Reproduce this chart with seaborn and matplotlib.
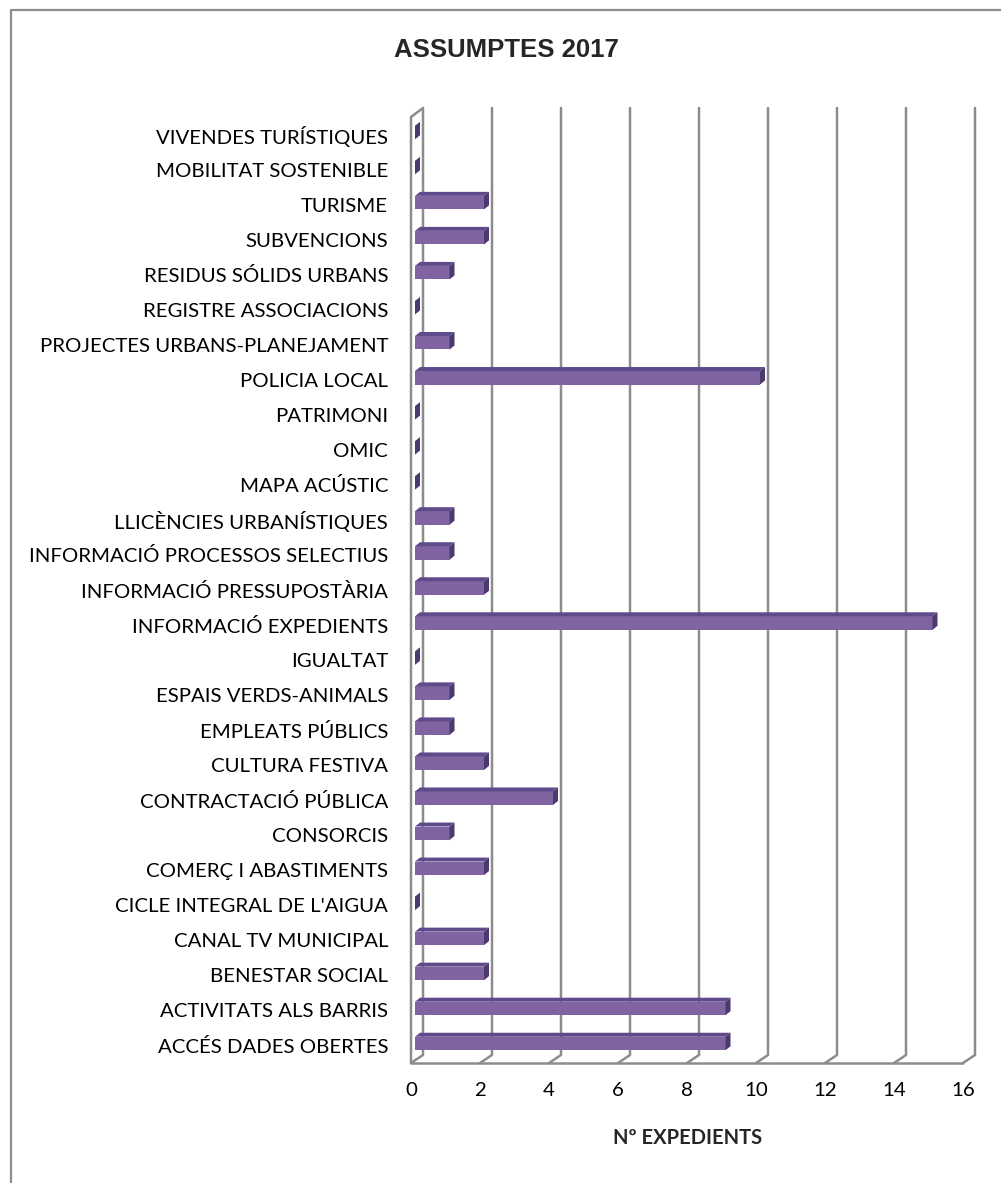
import matplotlib
matplotlib.use("Agg")
import seaborn as sns
from matplotlib import pyplot as plt
from matplotlib.patches import Polygon
from matplotlib.lines import Line2D

# categories, top to bottom as drawn
categories = [
    "VIVENDES TURÍSTIQUES", "MOBILITAT SOSTENIBLE", "TURISME", "SUBVENCIONS",
    "RESIDUS SÓLIDS URBANS", "REGISTRE ASSOCIACIONS", "PROJECTES URBANS-PLANEJAMENT",
    "POLICIA LOCAL", "PATRIMONI", "OMIC", "MAPA ACÚSTIC", "LLICÈNCIES URBANÍSTIQUES",
    "INFORMACIÓ PROCESSOS SELECTIUS", "INFORMACIÓ PRESSUPOSTÀRIA", "INFORMACIÓ EXPEDIENTS",
    "IGUALTAT", "ESPAIS VERDS-ANIMALS", "EMPLEATS PÚBLICS", "CULTURA FESTIVA",
    "CONTRACTACIÓ PÚBLICA", "CONSORCIS", "COMERÇ I ABASTIMENTS", "CICLE INTEGRAL DE L'AIGUA",
    "CANAL TV MUNICIPAL", "BENESTAR SOCIAL", "ACTIVITATS ALS BARRIS", "ACCÉS DADES OBERTES",
]
expedients = [0, 0, 2, 2, 1, 0, 1, 10, 0, 0, 0, 1, 1, 2, 15, 0, 1, 1, 2, 4, 1, 2, 0, 2, 2, 9, 9]
x_ticks = [0, 2, 4, 6, 8, 10, 12, 14, 16]

W, H = 1001, 1183
FRONT = "#8064a2"
TOP = "#5f4b8b"
SIDE = "#4b3a6e"
GRID = "#8c8c8c"

sns.set_style("white")
plt.rcParams["font.family"] = ["Lato", "DejaVu Sans"]

fig = plt.figure(figsize=(W / 100, H / 100), dpi=100)
# front plane of the plot area in pixels: x 411..963, y 117..1063
ax = fig.add_axes([411 / W, 1 - 1063 / H, 552 / W, 946 / H])

sns.barplot(x=expedients, y=categories, orient="h", color=FRONT, saturation=1,
            width=0.385, ax=ax, zorder=5)

n = len(categories)
ax.set_xlim(0, 16)
ax.set_ylim(n - 0.5, -0.5)

# pixel -> data unit helpers
ux = 552 / 16.0
uy = 946 / float(n)
sx, sy = 4 / ux, -2 / uy          # bar shift inside the depth
bdx, bdy = 5 / ux, 4 / uy         # bar depth
wdx, wdy = 12 / ux, 8 / uy        # wall / floor depth
top_y = -0.5 - 9 / uy

for p in ax.patches:
    p.set_x(p.get_x() + sx)
    p.set_y(p.get_y() + sy)
    p.set_edgecolor("none")
    x0, x1 = p.get_x(), p.get_x() + p.get_width()
    yt, yb = p.get_y(), p.get_y() + p.get_height()
    ax.add_patch(Polygon([(x0, yt), (x0 + bdx, yt - bdy), (x1 + bdx, yt - bdy), (x1, yt)],
                         closed=True, facecolor=TOP, edgecolor="none", zorder=6))
    ax.add_patch(Polygon([(x1, yt), (x1 + bdx, yt - bdy), (x1 + bdx, yb - bdy), (x1, yb)],
                         closed=True, facecolor=SIDE, edgecolor="none", zorder=6))

# back wall gridlines + floor slants
floor_y = n - 0.5
for v in x_ticks:
    ax.add_line(Line2D([v + wdx, v + wdx, v], [top_y, floor_y - wdy, floor_y],
                       color=GRID, lw=1.8, clip_on=False, zorder=1))
# left wall
ax.add_line(Line2D([0, 0, wdx], [floor_y, -0.5, top_y], color=GRID, lw=1.8,
                   clip_on=False, zorder=2))
# floor front edge
ax.add_line(Line2D([0, 16], [floor_y, floor_y], color=GRID, lw=1.8, clip_on=False, zorder=2))

for s in ax.spines.values():
    s.set_visible(False)
ax.grid(False)

ax.set_xticks(x_ticks)
ax.set_xticklabels([str(t) for t in x_ticks])
ax.set_yticks(range(n))
ax.set_yticklabels(categories)
ax.set_yticks([i - 0.5 for i in range(n + 1)], minor=True)
ax.tick_params(axis="y", which="major", length=0, pad=16.5, labelsize=14.7, labelcolor="black")
ax.tick_params(axis="y", which="minor", length=5, width=1.2, color=GRID, direction="out")
ax.tick_params(axis="x", length=5, width=1.2, color=GRID, direction="out", pad=9,
               labelsize=14.7, labelcolor="black")
ax.set_xlabel("")
ax.set_ylabel("")

fig.text(506 / W, 1 - 50 / H, "ASSUMPTES 2017", ha="center", va="center",
         fontsize=18.5, fontweight="bold", family=["Liberation Sans", "DejaVu Sans"])
fig.text(688 / W, 1 - 1138 / H, "Nº EXPEDIENTS", ha="center", va="center",
         fontsize=14.5, fontweight="bold")

# chart border
fig.add_artist(Line2D([11 / W, 11 / W, 1.0], [0, 1 - 10 / H, 1 - 10 / H],
                      color=GRID, lw=1.6, transform=fig.transFigure))

fig.savefig("out.png", dpi=100)
